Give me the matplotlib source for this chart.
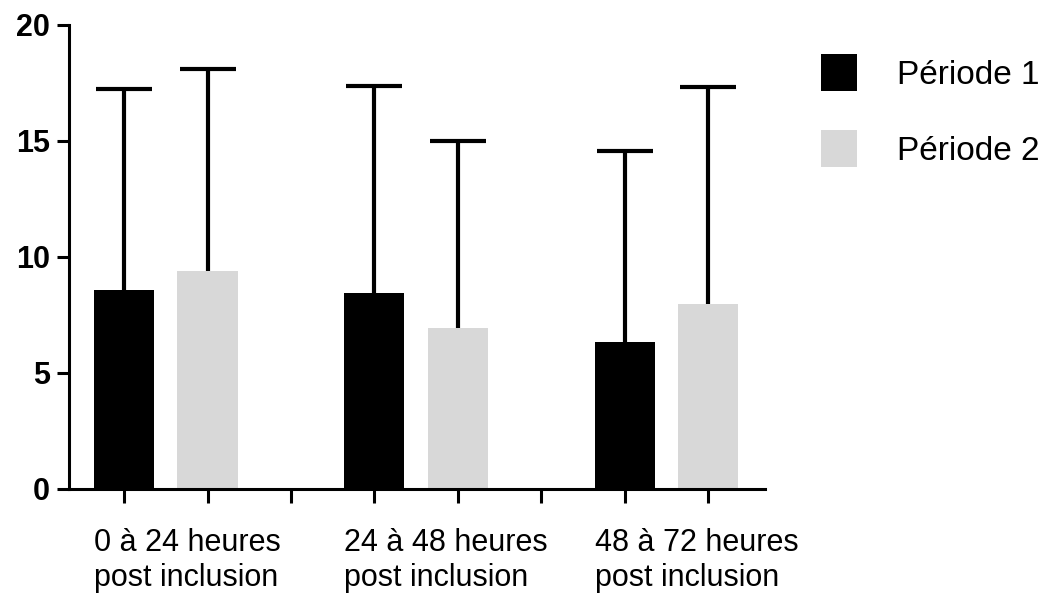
import numpy as np
import matplotlib
matplotlib.use('Agg')
import matplotlib.pyplot as plt

# ========================
# Bar chart: two periods, three time windows (mean + upper SD)
# ========================

groups = ['0 à 24 heures\npost inclusion',
          '24 à 48 heures\npost inclusion',
          '48 à 72 heures\npost inclusion']
series_names = ['Période 1', 'Période 2']
periode1 = [8.58, 8.45, 6.34]
periode1_err = [8.65, 8.9, 8.25]
periode2 = [9.40, 6.95, 7.96]
periode2_err = [8.7, 8.05, 9.35]
y_ticks = [0, 5, 10, 15, 20]


def main():
    plt.rcParams['font.family'] = ['Liberation Sans', 'DejaVu Sans']

    fig = plt.figure(figsize=(10.45, 5.93), dpi=100)
    ax = fig.add_axes([69 / 1045, 104 / 593, 696 / 1045, 464 / 593])

    # slots: black bar, grey bar, gap, ...
    pos1 = np.arange(len(groups)) * 3
    pos2 = pos1 + 1
    width = 0.72
    err_style = dict(ecolor='black', elinewidth=3, capsize=20, capthick=3)

    b1 = ax.bar(pos1, periode1, width, color='black', label=series_names[0],
                yerr=[np.zeros(len(periode1)), periode1_err], error_kw=err_style)
    b2 = ax.bar(pos2, periode2, width, color='#d8d8d8', label=series_names[1],
                yerr=[np.zeros(len(periode2)), periode2_err], error_kw=err_style)

    # only the upper cap is shown
    for b in (b1, b2):
        caps = b.errorbar.lines[1]
        caps[0].set_visible(False)

    ax.set_xlim(-0.66, 7.68)
    ax.set_ylim(0, 20)
    ax.set_yticks(y_ticks)
    ax.set_yticklabels([str(t) for t in y_ticks], fontsize=22, fontweight='bold')
    ax.set_xticks(np.arange(8))
    ax.set_xticklabels([])

    for side in ['top', 'right']:
        ax.spines[side].set_visible(False)
    for side in ['left', 'bottom']:
        ax.spines[side].set_linewidth(2.2)
    ax.tick_params(axis='y', direction='out', length=8.5, width=2.2, pad=5)
    ax.tick_params(axis='x', direction='out', length=10, width=2.2)

    # group labels, left aligned on the black bars
    for p, g in zip(pos1, groups):
        ax.annotate(g, xy=(p - width / 2, 0), xycoords=('data', 'axes fraction'),
                    xytext=(0, -28), textcoords='offset points',
                    ha='left', va='top', fontsize=22, linespacing=1.22,
                    annotation_clip=False)

    ax.legend(handles=[b1, b2], loc='upper left',
              bbox_to_anchor=(821 / 1045, 1 - 54 / 593),
              bbox_transform=fig.transFigure, frameon=False,
              fontsize=24, handlelength=1.08, handleheight=1.35,
              handletextpad=1.2, labelspacing=1.15, borderpad=0,
              borderaxespad=0)

    fig.savefig('out.png', dpi=100)


if __name__ == '__main__':
    main()
